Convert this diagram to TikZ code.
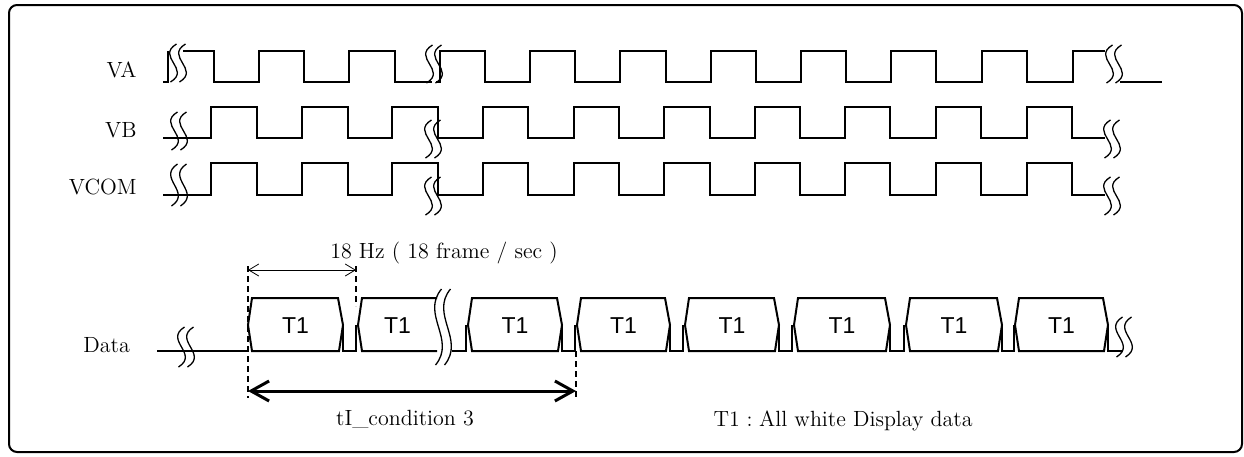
\documentclass[tikz,border=0pt]{standalone}
\usepackage{fontspec}
\newfontfamily\slotfont{Liberation Sans}
\usetikzlibrary{arrows.meta}

% разрыв сигнала: x, y, половина высоты
\newcommand{\sigbreak}[3]{%
  \foreach \dx in {-4.5,4.5}{
    \draw[brk] ({#1+\dx-3},{#2+#3}) .. controls ({#1+\dx+18},{#2+#3/3}) and ({#1+\dx-18},{#2-#3/3}) .. ({#1+\dx+3},{#2-#3});
  }}
% кадр данных и провал между кадрами
\newcommand{\dslot}[2]{\draw[wave] (#1,325) -- ({#1+4},298) -- ({#2-5},298) -- (#2,325) -- ({#2-4},351) -- ({#1+4},351) -- cycle;}
\newcommand{\dgap}[2]{\draw[wave] (#1,325) -- (#1,351) -- (#2,351) -- (#2,325);}

\begin{document}
\begin{tikzpicture}[x=0.5pt, y=-0.5pt,
    wave/.style={line width=1pt, line join=miter},
    brk/.style={line width=0.65pt},
    lbl/.style={font=\fontsize{11}{13}\selectfont, inner sep=0pt},
    tone/.style={font=\slotfont\fontsize{11.5}{13}\selectfont, inner sep=0pt},
    dline/.style={line width=0.6pt, dash pattern=on 3pt off 2pt},
    farrow/.style={line width=0.4pt, {Straight Barb[length=5pt,width=6pt]}-{Straight Barb[length=5pt,width=6pt]}},
    carrow/.style={line width=1.5pt, {Straight Barb[length=9pt,width=10pt]}-{Straight Barb[length=9pt,width=10pt]}}]
    \useasboundingbox (0,0) rectangle (1244,456);
    \draw[line width=1pt, rounded corners=4pt] (9,5) rectangle (1242,452);

    % Подписи сигналов:
    \node[lbl, anchor=base east] (va)   at (137,77)  {VA};
    \node[lbl, anchor=base east] (vb)   at (137,137) {VB};
    \node[lbl, anchor=base east] (vcom) at (137,194) {VCOM};
    \node[lbl, anchor=base west] (data) at (83,352)  {Data};

    % VA
    \draw[wave] (163,82) -- (168,82) -- (168,51);
    \draw[wave] (183,51) -- (214,51) -- (214,82) -- (259,82) -- (259,51) -- (304,51) -- (304,82) -- (349,82) -- (349,51) -- (395,51) -- (395,82) -- (432,82);
    \draw[wave] (436,82) -- (440,82) -- (440,51) -- (485,51) -- (485,82) -- (530,82) -- (530,51) -- (575,51) -- (575,82) -- (620,82) -- (620,51) -- (666,51) -- (666,82) -- (711,82) -- (711,51) -- (756,51) -- (756,82) -- (801,82) -- (801,51) -- (846,51) -- (846,82) -- (891,82) -- (891,51) -- (936,51) -- (936,82) -- (982,82) -- (982,51) -- (1027,51) -- (1027,82) -- (1073,82) -- (1073,51) -- (1105,51);
    \draw[wave] (1120,82) -- (1162,82);
    \sigbreak{178}{63}{19}
    \sigbreak{434}{64}{19}
    \sigbreak{1114}{64}{19}

    % VB
    \draw[wave] (163,138) -- (211,138) -- (211,107) -- (257,107) -- (257,138) -- (302,138) -- (302,107) -- (348,107) -- (348,138) -- (392,138) -- (392,107) -- (438,107) -- (438,138) -- (483,138) -- (483,107) -- (528,107) -- (528,138) -- (574,138) -- (574,107) -- (619,107) -- (619,138) -- (664,138) -- (664,107) -- (710,107) -- (710,138) -- (755,138) -- (755,107) -- (800,107) -- (800,138) -- (845,138) -- (845,107) -- (890,107) -- (890,138) -- (936,138) -- (936,107) -- (981,107) -- (981,138) -- (1027,138) -- (1027,107) -- (1072,107) -- (1072,138) -- (1105,138);
    \sigbreak{179}{131}{19}
    \sigbreak{433}{139}{19}
    \sigbreak{1112}{139}{19}

    % VCOM
    \draw[wave] (163,195) -- (211,195) -- (211,163) -- (257,163) -- (257,195) -- (302,195) -- (302,163) -- (348,163) -- (348,195) -- (392,195) -- (392,163) -- (438,163) -- (438,195) -- (483,195) -- (483,163) -- (528,163) -- (528,195) -- (574,195) -- (574,163) -- (619,163) -- (619,195) -- (664,195) -- (664,163) -- (710,163) -- (710,195) -- (755,195) -- (755,163) -- (800,163) -- (800,195) -- (845,195) -- (845,163) -- (890,163) -- (890,195) -- (936,195) -- (936,163) -- (981,163) -- (981,195) -- (1027,195) -- (1027,163) -- (1072,163) -- (1072,195) -- (1105,195);
    \sigbreak{179}{185}{21}
    \sigbreak{433}{196}{19}
    \sigbreak{1112}{196}{19}

    % Data
    \draw[wave] (157,351) -- (247,351);
    \sigbreak{186}{347}{20}
    \dslot{248}{343}  \dgap{343}{356}
    \draw[wave] (437,298) -- (362,298) -- (358,325) -- (362,351) -- (437,351);
    \sigbreak{443}{327}{38}
    \draw[wave] (452,351) -- (466,351) -- (466,325);
    \dslot{468}{562}  \dgap{562}{575}
    \dslot{577}{670}  \dgap{670}{683}
    \dslot{685}{779}  \dgap{779}{792}
    \dslot{794}{890}  \dgap{890}{904}
    \dslot{906}{1002} \dgap{1002}{1014}
    \dslot{1015}{1108}
    \draw[wave] (1108,325) -- (1108,351) -- (1122,351);
    \sigbreak{1124}{337}{20}

    \node[tone] (t1a) at (295.5,326) {T1};
    \node[tone] (t1b) at (397.5,326) {T1};
    \node[tone] (t1c) at (515,326)   {T1};
    \node[tone] (t1d) at (623.5,326) {T1};
    \node[tone] (t1e) at (732,326)   {T1};
    \node[tone] (t1f) at (842,326)   {T1};
    \node[tone] (t1g) at (954,326)   {T1};
    \node[tone] (t1h) at (1061.5,326) {T1};

    % Размеры:
    \coordinate (f0) at (248,270);
    \coordinate (f1) at (356,270);
    \coordinate (c0) at (248,391);
    \coordinate (c1) at (576,391);
    \draw[dline] (248,266) -- (248,398);
    \draw[dline] (356,266) -- (356,306);
    \draw[dline] (576,351) -- (576,398);
    \draw[farrow] (f0) -- (f1);
    \draw[carrow] (c0) -- (c1);

    \node[lbl] (freq) at (444,253) {18 Hz ( 18 frame / sec )};
    \node[lbl, anchor=base] (cond) at (405,425) {tI\_condition 3};
    \node[lbl, anchor=base east] (legend) at (973,426) {T1\hspace{0.3em}:\hspace{0.3em}All white Display data};
\end{tikzpicture}
\end{document}
